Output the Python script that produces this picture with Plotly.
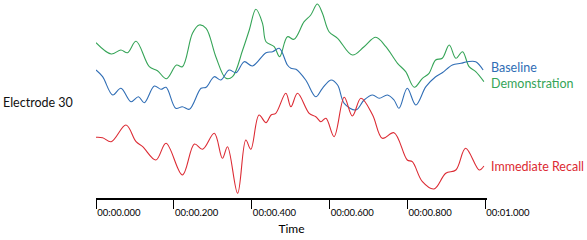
import plotly.graph_objects as go

# time in seconds, amplitude in arbitrary units
t_demo = [0.000, 0.039, 0.064, 0.081, 0.103, 0.137, 0.158, 0.181, 0.207, 0.222,
          0.248, 0.265, 0.283, 0.308, 0.334, 0.351, 0.377, 0.394, 0.411, 0.428,
          0.437, 0.458, 0.472, 0.492, 0.509, 0.535, 0.552, 0.569, 0.582, 0.599,
          0.621, 0.659, 0.689, 0.719, 0.745, 0.775, 0.796, 0.818, 0.839, 0.856,
          0.873, 0.890, 0.908, 0.925, 0.942, 0.959, 0.976, 0.997]
demo = [155.3, 144, 148, 145.3, 156.7, 131.3, 127.3, 119.3, 133, 131.3,
        164.7, 173, 169.7, 141.3, 119.7, 121.3, 148, 168, 188.7, 174.7,
        156.3, 151.3, 141.3, 161.3, 158.7, 176.3, 183, 194, 184.7, 166.3,
        159.7, 143, 151.3, 160.7, 151.3, 134.7, 126.3, 110.7, 119.7, 124.7,
        138, 139.7, 153, 139.7, 146.3, 131.3, 126.3, 116.3]

t_base = [0.000, 0.017, 0.043, 0.064, 0.090, 0.109, 0.124, 0.150, 0.167, 0.180,
          0.205, 0.222, 0.240, 0.270, 0.283, 0.304, 0.321, 0.342, 0.360, 0.381,
          0.402, 0.437, 0.454, 0.471, 0.492, 0.501, 0.514, 0.539, 0.565, 0.582,
          0.604, 0.621, 0.638, 0.668, 0.689, 0.711, 0.728, 0.749, 0.766, 0.779,
          0.800, 0.822, 0.848, 0.873, 0.890, 0.916, 0.938, 0.955, 0.976, 0.995]
base = [128, 121.3, 103, 109.7, 96.3, 101.3, 95.3, 112, 108.7, 110.7,
        89.7, 91.3, 88.7, 109.7, 110.7, 121.3, 118, 128, 125.3, 136.3,
        132, 145.3, 146.3, 149.7, 133, 129.7, 128.7, 118, 101.3, 109.7,
        118, 113, 94.7, 88, 98, 103, 99.7, 103, 98, 89.7,
        109.7, 93, 111.3, 121.3, 125.3, 133, 134.7, 136.3, 136.3, 128]

t_recall = [0.000, 0.017, 0.039, 0.077, 0.103, 0.120, 0.154, 0.180, 0.222, 0.253,
            0.274, 0.304, 0.325, 0.338, 0.364, 0.385, 0.398, 0.419, 0.437, 0.450,
            0.462, 0.488, 0.501, 0.518, 0.548, 0.565, 0.578, 0.591, 0.612, 0.638,
            0.659, 0.681, 0.711, 0.736, 0.766, 0.800, 0.813, 0.839, 0.869, 0.899,
            0.925, 0.950, 0.985, 0.997]
recall = [60.7, 60.3, 56.3, 73, 56.3, 51.3, 38, 54.7, 23, 54,
          48.7, 64.7, 39.7, 51.3, 4.7, 58, 48.7, 83, 75.3, 83,
          84.7, 104.7, 91.3, 104.7, 84.7, 81.3, 76.3, 79.7, 61.3, 100.7,
          82, 99.7, 83, 59.7, 65.3, 38, 36.3, 16.3, 9, 24.7,
          28, 49.7, 28, 32]

tick_vals = [0.0, 0.2, 0.4, 0.6, 0.8, 1.0]
tick_text = ["00:00.000", "00:00.200", "00:00.400", "00:00.600", "00:00.800", "00:01.000"]

blue = "#2f6db5"
green = "#35a457"
red = "#dc2a33"

fig = go.Figure()
fig.add_trace(go.Scatter(x=t_demo, y=demo, mode="lines", line=dict(color=green, width=1.1, shape="spline", smoothing=1)))
fig.add_trace(go.Scatter(x=t_base, y=base, mode="lines", line=dict(color=blue, width=1.1, shape="spline", smoothing=1)))
fig.add_trace(go.Scatter(x=t_recall, y=recall, mode="lines", line=dict(color=red, width=1.1, shape="spline", smoothing=1)))

font = "Lato, 'Open Sans', sans-serif"
labels = [("Baseline", base[-1] + 3, blue),
          ("Demonstration", demo[-1] - 1.5, green),
          ("Immediate Recall", recall[-1], red)]
annotations = [dict(x=1.006, y=y, xref="paper", yref="y", text=txt, showarrow=False,
                    xanchor="left", yanchor="middle", font=dict(family=font, size=12.5, color=c))
               for txt, y, c in labels]
annotations.append(dict(x=-0.244, y=96, xref="paper", yref="y", text="Electrode 30", showarrow=False,
                        xanchor="left", yanchor="middle", font=dict(family=font, size=12.5, color="#111")))

fig.update_layout(
    width=587, height=240,
    margin=dict(l=96, r=100, t=0, b=42),
    paper_bgcolor="white", plot_bgcolor="white",
    showlegend=False,
    annotations=annotations,
    xaxis=dict(range=[0, 1.005], tickvals=tick_vals, ticktext=tick_text,
               ticks="outside", ticklen=9, tickwidth=1, tickcolor="black",
               ticklabelposition="outside right", ticklabelstandoff=5,
               showline=True, linecolor="black", linewidth=1.5,
               showgrid=False, zeroline=False, automargin=False,
               tickfont=dict(family=font, size=9.5, color="black"),
               title=dict(text="Time", standoff=7, font=dict(family=font, size=12, color="black"))),
    yaxis=dict(range=[0, 198], visible=False),
)

fig.write_html("out.html", config={"displayModeBar": False},
               post_script="document.body.style.margin='0';")
